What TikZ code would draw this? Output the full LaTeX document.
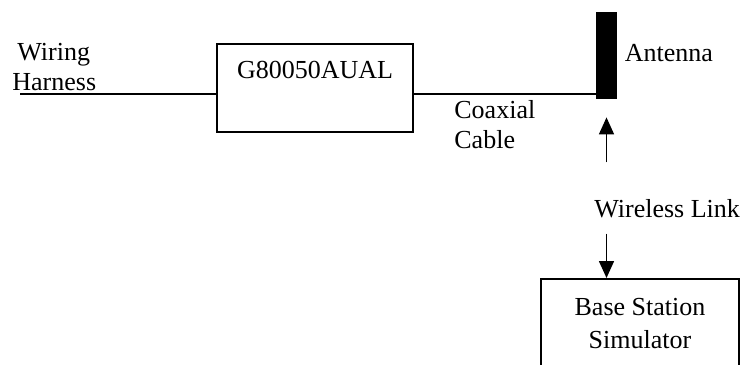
\documentclass[tikz,border=0pt]{standalone}
\usepackage{fontspec}
\setmainfont{Liberation Serif}
\usetikzlibrary{arrows.meta,positioning}

\begin{document}
\begin{tikzpicture}[x=0.5pt,y=-0.5pt,
  every node/.style={inner sep=0pt, font=\fontsize{13}{15}\selectfont},
  box/.style={draw, line width=1pt},
  wire/.style={line width=0.65pt},
  link/.style={line width=0.8pt, -{Triangle[width=7.5pt,length=8.5pt]}}]
	\useasboundingbox (0,0) rectangle (744,364);
	% receiver and antenna
	\node[box, minimum width=98pt, text height=17pt, text depth=27pt] (gps) at (315,88) {G80050AUAL};
	\node[fill=black, minimum width=10.5pt, minimum height=43.5pt] (ant) at (606.5,55.5) {};
	\node[right=3.5pt of ant, yshift=1pt] (antlbl) {Antenna};
	% cables
	\coordinate (harn) at (20,94);
	\draw[wire] (harn) -- (harn -| gps.west);
	\draw[wire] ([yshift=-3pt]gps.east) -- ([yshift=-3pt]gps.east -| ant.west);
	\node[anchor=north west, align=left] (harnlbl) at (12,43) {\hspace{2.5pt}Wiring\\Harness};
	\node[anchor=north west, align=left] (coaxlbl) at (454,100) {Coaxial\\Cable};
	% simulator
	\node[anchor=west] (wl) at (594,209) {Wireless Link};
	\node[box, minimum width=99pt, minimum height=45pt, align=center] (bss) at (640,324) {Base Station\\[1.5pt]Simulator};
	\draw[link, shorten <=18.5pt, shorten >=9pt] (ant.south |- wl.north) -- (ant.south);
	\draw[link, shorten <=7.5pt] (ant.south |- wl.south) -- (ant.south |- bss.north);
\end{tikzpicture}
\end{document}
